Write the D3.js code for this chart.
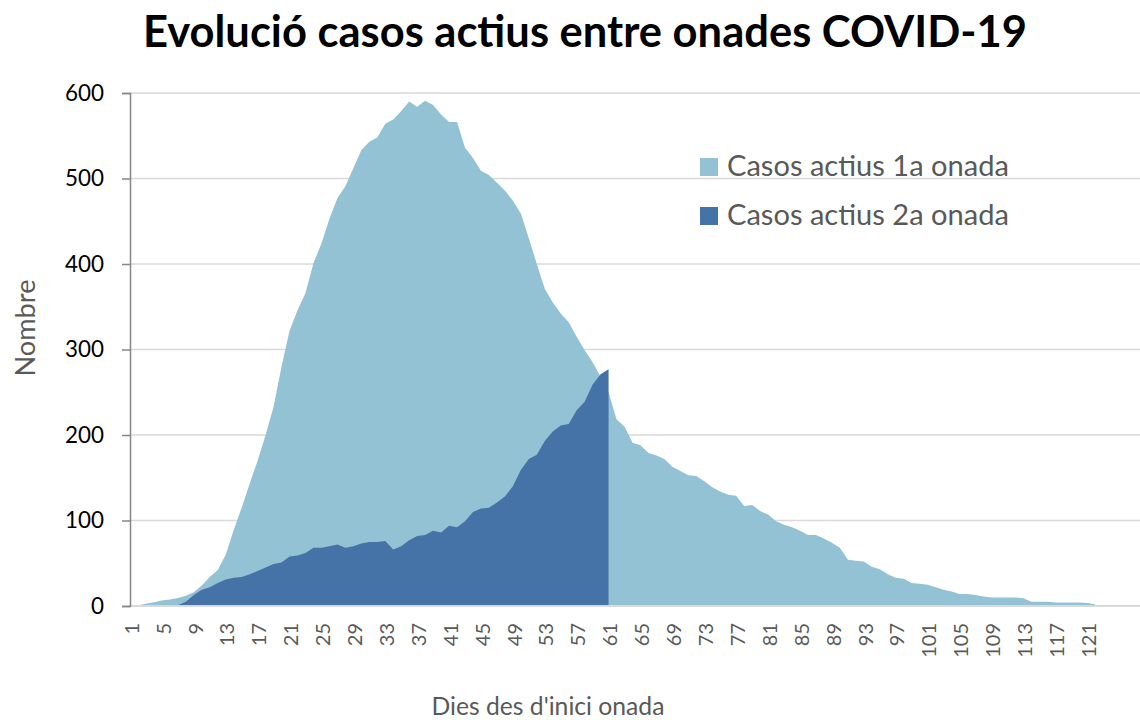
<!DOCTYPE html>
<html>
<head>
<meta charset="utf-8">
<script src="https://cdn.jsdelivr.net/npm/d3@7"></script>
<style>
  body { margin: 0; background: #fff; }
  svg { display: block; }
</style>
</head>
<body>
<svg id="chart" width="1140" height="720"></svg>
<script>
// ---------- DATA ----------
const days = d3.range(1, 129); // category axis: day since wave start

const wave1 = [
  1, 1, 2.5, 4.5, 6.5, 7.5, 9.5, 12, 16, 24,
  34, 42, 60, 89, 115, 143, 170, 200, 233, 280,
  322, 346, 366, 401, 424, 453, 477, 491, 512, 533,
  543, 548, 564, 569, 579, 590, 584, 591, 586, 575,
  566, 566, 536, 524, 509, 504, 495, 486, 474, 459,
  430, 400, 371, 355, 342, 332, 315, 299, 285, 268,
  250, 218, 210, 191, 188, 179, 176, 172, 163, 158,
  153, 152, 146, 139, 134, 130, 129, 117, 118, 111,
  107, 99, 95, 92, 88, 83, 83, 79, 74, 68,
  54, 53, 52, 46, 43, 37, 33, 32, 27, 26,
  25, 22, 19, 17, 14, 14, 13, 11, 10, 10,
  10, 10, 9, 5, 5, 5, 4, 4, 4, 4,
  3.5, 2
];

const wave2 = [
  0, 0, 0, 0, 0, 0, 1, 5, 13, 19,
  22, 27, 31, 33, 34, 37, 41, 45, 49, 51,
  58, 59, 62, 68, 68, 70, 72, 68, 70, 73,
  75, 75, 76, 66, 70, 77, 82, 83, 88, 86,
  94, 92, 99, 110, 114, 115, 121, 128, 140, 159,
  172, 177, 193, 204, 211, 213, 229, 239, 259, 271,
  277
];

const seriesNames = ["Casos actius 1a onada", "Casos actius 2a onada"];
const xTickLabels = [1, 5, 9, 13, 17, 21, 25, 29, 33, 37, 41, 45, 49, 53, 57, 61,
                     65, 69, 73, 77, 81, 85, 89, 93, 97, 101, 105, 109, 113, 117, 121];
const yTickLabels = [0, 100, 200, 300, 400, 500, 600];
const titleText = "Evolució casos actius entre onades COVID-19";
const xTitleText = "Dies des d'inici onada";
const yTitleText = "Nombre";

// ---------- STYLE ----------
const colors = ["#93C2D5", "#4673A7"];
const FONT = "Lato, 'Open Sans', sans-serif";

const svg = d3.select("#chart");

const x = d3.scalePoint().domain(days).range([130, 1143]);
const y = d3.scaleLinear().domain([0, 600]).range([606, 93]);

function fitWidth(sel, target) {
  const w = sel.node().getComputedTextLength();
  const fs = parseFloat(sel.attr("font-size"));
  sel.attr("font-size", fs * target / w);
  return fs * target / w;
}

// gridlines
svg.append("g")
  .selectAll("line")
  .data(yTickLabels.filter(v => v > 0))
  .join("line")
  .attr("x1", 130).attr("x2", 1140)
  .attr("y1", d => y(d)).attr("y2", d => y(d))
  .attr("stroke", "#D9D9D9")
  .attr("stroke-width", 1.5);

// areas
const area = d3.area()
  .x((d, i) => x(days[i]))
  .y0(y(0))
  .y1(d => y(d));

svg.append("path")
  .datum(wave1)
  .attr("d", area)
  .attr("fill", colors[0]);

svg.append("path")
  .datum(wave2)
  .attr("d", area)
  .attr("fill", colors[1]);

// x baseline
svg.append("line")
  .attr("x1", 130).attr("x2", 1140)
  .attr("y1", y(0)).attr("y2", y(0))
  .attr("stroke", "#D9D9D9")
  .attr("stroke-width", 2);

// y axis
const yAxis = svg.append("g")
  .attr("transform", "translate(130,0)")
  .call(d3.axisLeft(y).tickValues(yTickLabels).tickSize(8).tickPadding(18).tickFormat(d3.format("d")));
yAxis.select(".domain").attr("stroke", "#868686").attr("stroke-width", 1.5);
yAxis.selectAll(".tick line").attr("stroke", "#868686").attr("stroke-width", 1.5);
const yTexts = yAxis.selectAll(".tick text")
  .attr("font-family", FONT)
  .attr("font-size", 22)
  .attr("fill", "#000");
const yfs = fitWidth(d3.select(yTexts.nodes()[yTexts.size() - 1]), 39);
yTexts.attr("font-size", yfs);

// x axis labels
const xAxis = svg.append("g")
  .attr("transform", `translate(0,${y(0)})`)
  .call(d3.axisBottom(x).tickValues(xTickLabels).tickSize(0).tickPadding(0));
xAxis.select(".domain").remove();
xAxis.selectAll(".tick text")
  .attr("font-family", FONT)
  .attr("font-size", 20)
  .attr("fill", "#595959")
  .attr("text-anchor", "end")
  .attr("transform", "translate(1,17) rotate(-90)")
  .attr("x", 0)
  .attr("y", 0)
  .attr("dy", "0.36em");

// title
const title = svg.append("text")
  .attr("x", 585).attr("y", 47)
  .attr("text-anchor", "middle")
  .attr("font-family", FONT)
  .attr("font-weight", "bold")
  .attr("font-size", 40)
  .attr("fill", "#000")
  .text(titleText);
fitWidth(title, 884);

// axis titles
const yTitle = svg.append("text")
  .attr("transform", "translate(35,328) rotate(-90)")
  .attr("text-anchor", "middle")
  .attr("font-family", FONT)
  .attr("font-size", 22)
  .attr("fill", "#595959")
  .text(yTitleText);
fitWidth(yTitle, 97);

const xTitle = svg.append("text")
  .attr("x", 548).attr("y", 715)
  .attr("text-anchor", "middle")
  .attr("font-family", FONT)
  .attr("font-size", 22)
  .attr("fill", "#595959")
  .text(xTitleText);
fitWidth(xTitle, 233);

// legend
const legend = svg.append("g");
const legendRows = legend.selectAll("g")
  .data(seriesNames)
  .join("g")
  .attr("transform", (d, i) => `translate(700,${158 + i * 49})`);
legendRows.append("rect")
  .attr("width", 18).attr("height", 18)
  .attr("fill", (d, i) => colors[i]);
const legendTexts = legendRows.append("text")
  .attr("x", 27).attr("y", 18)
  .attr("font-family", FONT)
  .attr("font-size", 26)
  .attr("fill", "#595959")
  .text(d => d);
const lfs = fitWidth(d3.select(legendTexts.nodes()[0]), 282);
legendTexts.attr("font-size", lfs);
</script>
</body>
</html>
